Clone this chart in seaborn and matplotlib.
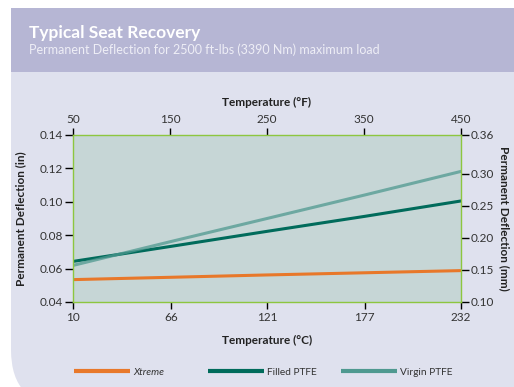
import seaborn as sns
import pandas as pd
import matplotlib.pyplot as plt
from matplotlib.patches import Rectangle, FancyBboxPatch

# Temperature ticks (deg C) and readings (in)
temp_c = [10, 66, 121, 177, 232]
xtreme = [0.0534, 0.0548, 0.0562, 0.0575, 0.0588]
filled_ptfe = [0.0643, 0.0733, 0.0823, 0.0913, 0.1005]
virgin_ptfe = [0.0619, 0.0762, 0.0900, 0.1041, 0.1182]
series_names = ["Xtreme", "Filled PTFE", "Virgin PTFE"]
f_ticks = [50, 150, 250, 350, 450]
in_ticks = [0.04, 0.06, 0.08, 0.10, 0.12, 0.14]
mm_ticks = [0.10, 0.15, 0.20, 0.25, 0.30, 0.36]

df = pd.DataFrame({
    "temp": temp_c * 3,
    "deflection": xtreme + filled_ptfe + virgin_ptfe,
    "material": [n for n in series_names for _ in temp_c],
})

palette = {"Xtreme": "#e8782a", "Filled PTFE": "#006b5b", "Virgin PTFE": "#4f9990"}

sns.set_style("white")
plt.rcParams['font.family'] = ['Lato', 'DejaVu Sans']

W, H = 514, 387
fig = plt.figure(figsize=(W / 100, H / 100), dpi=100)


def fx(px):
    return px / W


def fy(py):
    return 1 - py / H


# background panel and header band
panel = FancyBboxPatch((fx(11), fy(387) - 0.05), 1.2, fy(20) - fy(387) + 0.05,
                       boxstyle="round,pad=0,rounding_size=0.11",
                       transform=fig.transFigure, facecolor="#dfe1ee", edgecolor="none",
                       mutation_aspect=W / H, zorder=-10)
fig.patches.append(panel)
fig.patches.append(Rectangle((fx(11), fy(72)), 1 - fx(11), fy(8) - fy(72),
                             transform=fig.transFigure, facecolor="#b6b6d4", edgecolor="none",
                             zorder=-9))
fig.text(fx(29), fy(33), "Typical Seat Recovery", color="white", fontsize=12.5,
         fontweight="bold", va="center")
fig.text(fx(29), fy(50), "Permanent Deflection for 2500 ft-lbs (3390 Nm) maximum load",
         color="#eeeef6", fontsize=9, va="center")

ax = fig.add_axes([fx(73), fy(302), fx(461) - fx(73), fy(135) - fy(302)])
ax.set_facecolor("#c6d6d6")

sns.lineplot(data=df, x="temp", y="deflection", hue="material", palette=palette,
             linewidth=2.2, legend=False, ax=ax)
for line, name in zip(ax.lines, series_names):
    if name == "Virgin PTFE":
        line.set_alpha(0.75)

ax.set_xlim(10, 232)
ax.set_ylim(0.04, 0.14)
ax.set_xticks(temp_c)
ax.set_yticks(in_ticks)
ax.set_yticklabels([f"{v:.2f}" for v in in_ticks])
for s in ax.spines.values():
    s.set_color("#8dc63f")
    s.set_linewidth(1)
ax.tick_params(axis="both", which="both", direction="out", color="black", width=1,
               labelsize=8.5, labelcolor="#333333", bottom=True, left=True)
ax.tick_params(axis="y", length=6, pad=1)
ax.tick_params(axis="x", length=5, pad=2)
ax.set_xlabel("Temperature (°C)", fontsize=8.5, fontweight="bold", color="#222222", labelpad=9)
ax.set_ylabel("Permanent Deflection (in)", fontsize=8.5, fontweight="bold", color="#222222",
              labelpad=10)

# the chart pairs 10 C with 50 F and 232 C with 450 F
top = ax.secondary_xaxis("top", functions=(lambda c: 50 + (c - 10) * 400 / 222,
                                           lambda f: 10 + (f - 50) * 222 / 400))
top.set_xticks(f_ticks)
top.tick_params(direction="out", length=5, width=1, color="black", labelsize=8.5,
                labelcolor="#333333", pad=2, top=True)
top.spines["top"].set_visible(False)
top.set_xlabel("Temperature (°F)", fontsize=8.5, fontweight="bold", color="#222222", labelpad=6)

right = ax.secondary_yaxis("right", functions=(lambda v: 0.10 + (v - 0.04) * 2.6,
                                               lambda m: 0.04 + (m - 0.10) / 2.6))
right.set_yticks(mm_ticks)
right.set_yticklabels([f"{v:.2f}" for v in mm_ticks])
right.tick_params(direction="out", length=6, width=1, color="black", labelsize=8.5,
                  labelcolor="#333333", pad=1, right=True)
right.spines["right"].set_visible(False)
right.set_ylabel("Permanent Deflection (mm)", fontsize=8.5, fontweight="bold", color="#222222",
                 rotation=-90, labelpad=11)

# legend entries spread along the bottom
legend_x = [65, 199, 332]
for name, lx in zip(series_names, legend_x):
    h = plt.Line2D([], [], color=palette[name], linewidth=3, solid_capstyle="butt")
    leg = fig.legend([h], [name], loc="center left", bbox_to_anchor=(fx(lx), fy(372)),
                     frameon=False, handlelength=5.5, handletextpad=0.35, fontsize=7.3)
    for t in leg.get_texts():
        t.set_color("#333333")
        if name == "Xtreme":
            t.set_style("italic")

fig.savefig("out.png", dpi=100)
